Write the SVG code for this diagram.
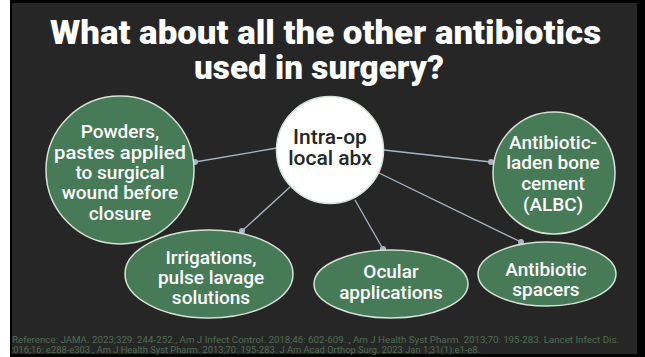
<svg xmlns="http://www.w3.org/2000/svg" width="645" height="357" viewBox="0 0 645 357">
  <defs>
    <style>
      .title { font-family: Roboto, "Liberation Sans", sans-serif; font-weight: 900; font-size: 34px; fill: #ffffff; text-anchor: middle; }
      .node { fill: #477a56; stroke: #d5e3d6; stroke-width: 1.5; }
      .center { fill: #ffffff; stroke: #d5e3d6; stroke-width: 1.5; }
      .lbl { font-family: Roboto, "Liberation Sans", sans-serif; font-weight: 500; font-size: 19px; fill: #ffffff; text-anchor: middle; }
      .clbl { font-family: Roboto, "Liberation Sans", sans-serif; font-weight: 500; font-size: 21px; fill: #262626; text-anchor: middle; }
      .conn { stroke: #a8b6c4; stroke-width: 1.3; fill: none; }
      .dot { fill: #a8b6c4; }
      .ref { font-family: Roboto, "Liberation Sans", sans-serif; font-size: 9px; fill: #4f6e55; }
    </style>
  </defs>

  <!-- background / frame -->
  <rect x="0" y="0" width="645" height="357" fill="#000000"/>
  <rect x="12" y="3" width="625" height="351" fill="#262626"/>

  <!-- title -->
  <text class="title" x="325.5" y="44" textLength="551" lengthAdjust="spacingAndGlyphs">What about all the other antibiotics</text>
  <text class="title" x="319" y="79" textLength="250" lengthAdjust="spacingAndGlyphs">used in surgery?</text>

  <!-- connectors -->
  <g id="connectors">
    <line class="conn" x1="277" y1="148" x2="195" y2="162"/>
    <circle class="dot" cx="195" cy="162" r="3"/>
    <line class="conn" x1="384" y1="150" x2="491" y2="162"/>
    <circle class="dot" cx="491" cy="162" r="3"/>
    <line class="conn" x1="379" y1="173" x2="521" y2="242"/>
    <circle class="dot" cx="521" cy="242" r="3"/>
    <line class="conn" x1="355" y1="200" x2="383" y2="249"/>
    <circle class="dot" cx="383" cy="249" r="3"/>
    <line class="conn" x1="290" y1="187" x2="242" y2="231"/>
    <circle class="dot" cx="242" cy="231" r="3"/>
  </g>

  <!-- nodes -->
  <g id="node-center">
    <circle class="center" cx="330" cy="150" r="53.5"/>
    <text class="clbl" x="330" y="144">Intra-op</text>
    <text class="clbl" x="330" y="165">local abx</text>
  </g>

  <g id="node-powders">
    <circle class="node" cx="120" cy="170" r="74"/>
    <text class="lbl" x="120" y="138">Powders,</text>
    <text class="lbl" x="120" y="159" textLength="132" lengthAdjust="spacingAndGlyphs">pastes applied</text>
    <text class="lbl" x="120" y="179">to surgical</text>
    <text class="lbl" x="120" y="199">wound before</text>
    <text class="lbl" x="120" y="220">closure</text>
  </g>

  <g id="node-albc">
    <circle class="node" cx="554" cy="173" r="61"/>
    <text class="lbl" x="553" y="149">Antibiotic-</text>
    <text class="lbl" x="553" y="169">laden bone</text>
    <text class="lbl" x="553" y="190">cement</text>
    <text class="lbl" x="553" y="211">(ALBC)</text>
  </g>

  <g id="node-irrigations">
    <ellipse class="node" cx="209" cy="274" rx="84" ry="44"/>
    <text class="lbl" x="211" y="264">Irrigations,</text>
    <text class="lbl" x="211" y="284">pulse lavage</text>
    <text class="lbl" x="211" y="304">solutions</text>
  </g>

  <g id="node-ocular">
    <ellipse class="node" cx="391" cy="284" rx="77" ry="34"/>
    <text class="lbl" x="391" y="278">Ocular</text>
    <text class="lbl" x="391" y="299">applications</text>
  </g>

  <g id="node-spacers">
    <ellipse class="node" cx="547" cy="274" rx="69" ry="32"/>
    <text class="lbl" x="546" y="276">Antibiotic</text>
    <text class="lbl" x="546" y="296">spacers</text>
  </g>

  <!-- reference -->
  <text class="ref" x="12" y="343" textLength="607" lengthAdjust="spacingAndGlyphs">Reference: JAMA. 2023;329: 244-252., Am J Infect Control. 2018;46: 602-609. , Am J Health Syst Pharm. 2013;70: 195-283. Lancet Infect Dis.</text>
  <text class="ref" x="8" y="353" textLength="472" lengthAdjust="spacingAndGlyphs">2016;16: e288-e303.,  Am J Health Syst Pharm. 2013;70: 195-283. J Am Acad Orthop Surg. 2023 Jan 1;31(1):e1-e8.</text>

  <!-- left frame edge (overlays clipped text) -->
  <rect x="0" y="0" width="10" height="357" fill="#ffffff"/>
  <rect x="10" y="0" width="2" height="357" fill="#000000"/>
</svg>
